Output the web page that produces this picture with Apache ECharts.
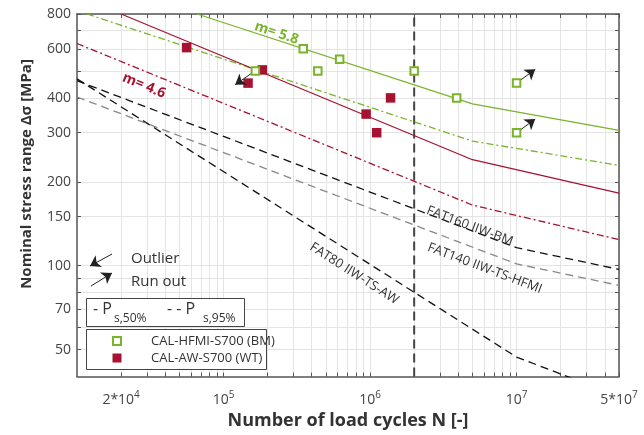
<!DOCTYPE html>
<html>
<head>
<meta charset="utf-8">
<script src="https://cdn.jsdelivr.net/npm/echarts@6/dist/echarts.min.js"></script>
<style>
  html, body { margin: 0; padding: 0; background: #fff; }
  #chart { width: 644px; height: 435px; }
</style>
</head>
<body>
<div id="chart"></div>
<script>
const GREEN = '#7ab42a'
const RED = '#a6122f'
const FONT = '"Open Sans", "Noto Sans", sans-serif'

// axis ticks and labels
const xTicks = [2e4, 3e4, 4e4, 5e4, 6e4, 7e4, 8e4, 9e4,
  1e5, 2e5, 3e5, 4e5, 5e5, 6e5, 7e5, 8e5, 9e5,
  1e6, 2e6, 3e6, 4e6, 5e6, 6e6, 7e6, 8e6, 9e6,
  1e7, 2e7, 3e7, 4e7, 5e7]
const xLabels = [2e4, 1e5, 1e6, 1e7, 5e7]
const yTicks = [50, 60, 70, 80, 90, 100, 150, 200, 300, 400, 500, 600, 700, 800]
const yLabels = [50, 70, 100, 150, 200, 300, 400, 600, 800]

// test results
const hfmiN = [1.65e5, 3.5e5, 4.4e5, 6.2e5, 2e6, 3.9e6, 1e7, 1e7]
const hfmiS = [500, 600, 500, 550, 500, 400, 452, 300]
const awN = [5.6e4, 1.47e5, 1.84e5, 9.4e5, 1.11e6, 1.38e6]
const awS = [606, 452, 504, 350, 300, 400]

// S-N curves (knee points)
const hfmi50N = [6.6e4, 5e6, 5e7]
const hfmi50S = [800, 381, 306]
const hfmi95N = [1.17e4, 5e6, 5e7]
const hfmi95S = [800, 280, 229]
const aw50N = [2e4, 5e6, 5e7]
const aw50S = [800, 240, 182]
const aw95N = [1e4, 5e6, 5e7]
const aw95S = [627, 165, 124]
const fat160N = [1e4, 1e7, 5e7]
const fat160S = [461, 116, 97]
const fat140N = [1e4, 1e7, 5e7]
const fat140S = [403, 101.5, 85]
const fat80N = [1e4, 1e7, 5e7]
const fat80S = [468, 47, 34]

// outlier / run out arrows [fromN, fromS, toN, toS]
const outliers = [[1.64e5, 500, 1.2e5, 446]]
const runOuts = [[1e7, 452, 1.34e7, 507], [1e7, 300, 1.34e7, 336]]

const zip = (a, b) => a.map((v, i) => [v, b[i]])

const chart = echarts.init(document.getElementById('chart'))

function supLabel (v) {
  const e = Math.floor(Math.log10(v) + 1e-9)
  const m = Math.round(v / Math.pow(10, e))
  return (m === 1 ? '' : m + '*') + '10{sup|' + e + '}'
}

const frame = { show: true, lineStyle: { color: '#555', width: 1.5 } }

function curve (name, n, s, color, type) {
  return {
    name: name,
    type: 'line',
    data: zip(n, s),
    symbol: 'none',
    silent: true,
    z: 3,
    lineStyle: { color: color, width: 1.3, type: type }
  }
}

function arrows (list) {
  return list.map(a => [{ coord: [a[0], a[1]] }, { coord: [a[2], a[3]] }])
}

const arrowLine = {
  silent: true,
  animation: false,
  symbol: ['none', 'arrow'],
  symbolSize: 10,
  label: { show: false },
  lineStyle: { color: '#222', width: 1, type: 'solid' }
}

function text (x, y, str, size, extra) {
  return Object.assign({
    type: 'text',
    x: x,
    y: y,
    z: 100,
    style: Object.assign({ text: str, fontSize: size, fontFamily: FONT, fill: '#333', verticalAlign: 'middle' }, extra && extra.style)
  }, extra && extra.el)
}

chart.setOption({
  animation: false,
  grid: { left: 77, right: 25, top: 14, bottom: 52 },
  xAxis: [{
    type: 'log',
    logBase: 10,
    min: 1e4,
    max: 5e7,
    name: 'Number of load cycles N [-]',
    nameLocation: 'middle',
    nameGap: 26,
    nameTextStyle: { fontFamily: FONT, fontSize: 18, fontWeight: 'bold', color: '#333' },
    axisLine: frame,
    axisTick: { show: true, inside: true, length: 4, customValues: xTicks, lineStyle: { color: '#555' } },
    axisLabel: {
      customValues: xLabels,
      margin: 14,
      color: '#444',
      fontFamily: FONT,
      fontSize: 14,
      formatter: supLabel,
      rich: { sup: { fontSize: 10, fontFamily: FONT, color: '#444', padding: [0, 0, 9, 0] } }
    },
    splitLine: { show: true, lineStyle: { color: '#e4e4e4', width: 1 } }
  }, {
    type: 'log',
    logBase: 10,
    min: 1e4,
    max: 5e7,
    position: 'top',
    axisLine: frame,
    axisTick: { show: true, inside: true, length: 4, customValues: xTicks, lineStyle: { color: '#555' } },
    axisLabel: { show: false },
    splitLine: { show: false }
  }],
  yAxis: [{
    type: 'log',
    logBase: 10,
    min: 40,
    max: 800,
    axisLine: frame,
    axisTick: { show: true, inside: true, length: 4, customValues: yTicks, lineStyle: { color: '#555' } },
    axisLabel: { customValues: yLabels, margin: 6, color: '#444', fontFamily: FONT, fontSize: 14 },
    splitLine: { show: true, lineStyle: { color: '#e4e4e4', width: 1 } }
  }, {
    type: 'log',
    logBase: 10,
    min: 40,
    max: 800,
    position: 'right',
    axisLine: frame,
    axisTick: { show: true, inside: true, length: 4, customValues: yTicks, lineStyle: { color: '#555' } },
    axisLabel: { show: false },
    splitLine: { show: false }
  }],
  series: [
    curve('FAT80 IIW-TS-AW', fat80N, fat80S, '#111', [8, 5]),
    curve('FAT160 IIW-BM', fat160N, fat160S, '#111', [8, 5]),
    curve('FAT140 IIW-TS-HFMI', fat140N, fat140S, '#888', [8, 5]),
    curve('HFMI Ps50%', hfmi50N, hfmi50S, GREEN, 'solid'),
    curve('HFMI Ps95%', hfmi95N, hfmi95S, GREEN, [7, 3, 2, 3]),
    curve('AW Ps50%', aw50N, aw50S, RED, 'solid'),
    curve('AW Ps95%', aw95N, aw95S, RED, [7, 3, 2, 3]),
    {
      name: 'N = 2*10^6',
      type: 'line',
      data: [[2e6, 40], [2e6, 800]],
      symbol: 'none',
      silent: true,
      z: 2,
      lineStyle: { color: '#444', width: 2, type: [9, 5] }
    },
    {
      name: 'CAL-HFMI-S700 (BM)',
      type: 'scatter',
      data: zip(hfmiN, hfmiS),
      symbol: 'rect',
      symbolSize: 7.5,
      z: 5,
      itemStyle: { color: '#fff', borderColor: GREEN, borderWidth: 2, opacity: 1 },
      markLine: Object.assign({ data: arrows(outliers.concat(runOuts)) }, arrowLine)
    },
    {
      name: 'CAL-AW-S700 (WT)',
      type: 'scatter',
      data: zip(awN, awS),
      symbol: 'rect',
      symbolSize: 9.5,
      z: 4,
      itemStyle: { color: RED, opacity: 1 },
      markLine: Object.assign({
        data: [
          [{ x: 112, y: 254 }, { x: 90, y: 266 }],
          [{ x: 91, y: 286 }, { x: 112, y: 273 }]
        ]
      }, arrowLine)
    }
  ],
  graphic: [
    text(27, 174, 'Nominal stress range Δσ [MPa]', 15, {
      style: { fontWeight: 'bold', align: 'center' },
      el: { rotation: Math.PI / 2 }
    }),
    text(255, 26, 'm= 5.8', 14, { style: { fill: GREEN, fontWeight: 'bold' }, el: { rotation: -0.32 } }),
    text(123, 77, 'm= 4.6', 14, { style: { fill: RED, fontWeight: 'bold' }, el: { rotation: -0.39 } }),
    text(427, 210, 'FAT160 IIW-BM', 13, { el: { rotation: -0.36 } }),
    text(428, 247, 'FAT140 IIW-TS-HFMI', 13, { el: { rotation: -0.36 } }),
    text(311, 246, 'FAT80 IIW-TS-AW', 13, { el: { rotation: -0.57 } }),
    text(131, 259, 'Outlier', 15),
    text(131, 282, 'Run out', 15),
    { type: 'rect', shape: { x: 86.5, y: 298.5, width: 158, height: 28 }, style: { fill: '#fff', stroke: '#444', lineWidth: 1 }, z: 90 },
    text(93, 309, '- P', 16),
    text(114, 319, 's,50%', 12),
    text(167, 309, '- - P', 16),
    text(203, 319, 's,95%', 12),
    { type: 'rect', shape: { x: 86.5, y: 329.5, width: 180, height: 40 }, style: { fill: '#fff', stroke: '#444', lineWidth: 1 }, z: 90 },
    { type: 'rect', shape: { x: 113, y: 337, width: 8, height: 8 }, style: { fill: '#fff', stroke: GREEN, lineWidth: 2 }, z: 100 },
    { type: 'rect', shape: { x: 112.5, y: 353.5, width: 9, height: 9 }, style: { fill: RED }, z: 100 },
    text(151, 341, 'CAL-HFMI-S700 (BM)', 13),
    text(151, 358, 'CAL-AW-S700 (WT)', 13)
  ]
})
</script>
</body>
</html>
